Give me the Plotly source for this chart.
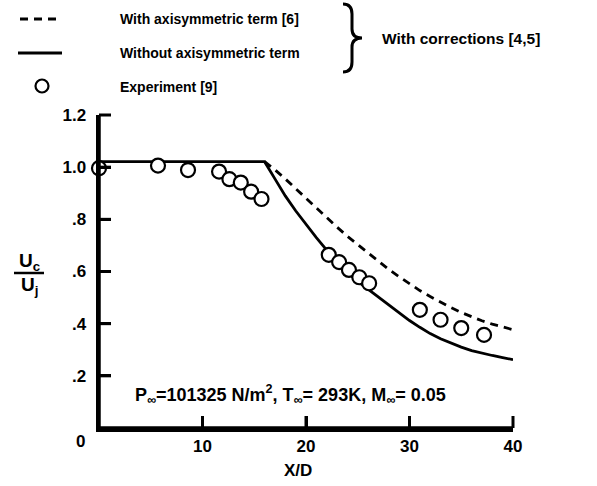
import plotly.graph_objects as go

# ---- data ----
exp_x = [0.0, 5.7, 8.6, 11.6, 12.6, 13.7, 14.7, 15.7, 22.2, 23.2, 24.15, 25.15, 26.1, 31.0, 33.0, 35.0, 37.2]
exp_y = [0.996, 1.006, 0.989, 0.983, 0.954, 0.941, 0.906, 0.878, 0.664, 0.636, 0.606, 0.578, 0.555, 0.453, 0.415, 0.383, 0.357]

sol_x = [0, 16, 17, 18, 19, 20, 21, 22, 23, 24, 25, 26, 27, 28, 29, 30, 31, 32, 33, 34, 35, 36, 37, 38, 39, 40]
sol_y = [1.021, 1.021, 0.955, 0.89, 0.833, 0.78, 0.73, 0.682, 0.638, 0.598, 0.562, 0.532, 0.503, 0.472, 0.442, 0.412,
         0.386, 0.362, 0.342, 0.325, 0.31, 0.297, 0.287, 0.278, 0.27, 0.262]

dash_x = [16, 17, 18, 19, 20, 21, 22, 23, 24, 25, 26, 27, 28, 29, 30, 31, 32, 33, 34, 35, 36, 37, 38, 39, 40]
dash_y = [1.021, 0.99, 0.955, 0.918, 0.88, 0.842, 0.805, 0.77, 0.735, 0.703, 0.670, 0.638, 0.608, 0.580, 0.553,
          0.527, 0.504, 0.482, 0.462, 0.443, 0.426, 0.411, 0.398, 0.387, 0.377]

x_ticks = [10, 20, 30, 40]
x_ticktext = ["10", "20", "30", "40"]
y_ticks = [0.2, 0.4, 0.6, 0.8, 1.0, 1.2]
y_ticktext = [".2", ".4", ".6", ".8", "1.0", "1.2"]
x_range = [0, 40]
y_range = [0, 1.2]

legend_labels = ["With axisymmetric term [6]", "Without axisymmetric term", "Experiment [9]"]
brace_label = "With corrections [4,5]"
cond_text = "P<sub>∞</sub>=101325 N/m<sup>2</sup>, T<sub>∞</sub>= 293K, M<sub>∞</sub>= 0.05"

# ---- layout geometry (pixels) ----
W, H = 597, 486
L, R, T, B = 99, 84, 115, 58
PW, PH = W - L - R, H - T - B
TICKLEN = 12

def px(xp):
    return (xp - L) / PW

def py(yp):
    return (H - B - yp) / PH

def xfrac(v):  # data -> paper fraction along the x axis range
    return (v - x_range[0]) / (x_range[1] - x_range[0])

def yfrac(v):
    return (v - y_range[0]) / (y_range[1] - y_range[0])

FONT = "Liberation Sans, Arial, Helvetica, sans-serif"

fig = go.Figure()
fig.add_trace(go.Scatter(x=dash_x, y=dash_y, mode="lines",
                         line=dict(color="black", width=2.8, dash="8px,6px"),
                         showlegend=False, cliponaxis=False))
fig.add_trace(go.Scatter(x=sol_x, y=sol_y, mode="lines",
                         line=dict(color="black", width=2.8),
                         showlegend=False, cliponaxis=False))
fig.add_trace(go.Scatter(x=exp_x, y=exp_y, mode="markers",
                         marker=dict(symbol="circle", size=14, color="white",
                                     line=dict(color="black", width=2.2)),
                         showlegend=False, cliponaxis=False))

shapes = []
ann = []

def text(x, y, s, size=14, xanchor="left"):
    ann.append(dict(x=px(x), y=py(y), xref="paper", yref="paper", text=s, showarrow=False,
                    xanchor=xanchor, yanchor="middle",
                    font=dict(family=FONT, size=size, color="black", weight="bold")))

# axis lines and inward ticks
shapes.append(dict(type="line", xref="paper", yref="paper", x0=-1.5 / PW, x1=1, y0=0, y1=0,
                   layer="above", line=dict(color="black", width=3.5)))
shapes.append(dict(type="line", xref="paper", yref="paper", x0=0, x1=0, y0=0, y1=1,
                   layer="above", line=dict(color="black", width=3.5)))
for xv in x_ticks:
    shapes.append(dict(type="line", xref="paper", yref="paper", x0=xfrac(xv), x1=xfrac(xv),
                       y0=0, y1=TICKLEN / PH, layer="above", line=dict(color="black", width=3)))
for yv in y_ticks:
    shapes.append(dict(type="line", xref="paper", yref="paper", x0=0, x1=TICKLEN / PW,
                       y0=yfrac(yv), y1=yfrac(yv), layer="above", line=dict(color="black", width=3)))

# legend samples
shapes.append(dict(type="line", xref="paper", yref="paper", x0=px(20), x1=px(62), y0=py(19), y1=py(19),
                   line=dict(color="black", width=2.8, dash="8px,6px")))
shapes.append(dict(type="line", xref="paper", yref="paper", x0=px(18), x1=px(62), y0=py(53), y1=py(53),
                   line=dict(color="black", width=2.8)))
shapes.append(dict(type="circle", xref="paper", yref="paper", x0=px(35.5), x1=px(48.5), y0=py(79.5), y1=py(92.5),
                   line=dict(color="black", width=2.2), fillcolor="white"))
text(118, 19, legend_labels[0], size=14)
text(118, 53, legend_labels[1], size=14)
text(118, 87, legend_labels[2], size=14)

# brace
path = (f"M {px(343)},{py(4)} Q {px(352)},{py(4)} {px(352)},{py(14)} L {px(352)},{py(29)} "
        f"Q {px(352)},{py(38)} {px(362)},{py(38)} Q {px(352)},{py(38)} {px(352)},{py(47)} "
        f"L {px(352)},{py(62)} Q {px(352)},{py(72)} {px(343)},{py(72)}")
shapes.append(dict(type="path", xref="paper", yref="paper", path=path, line=dict(color="black", width=3)))
text(380, 38, brace_label, size=15.5)

# condition text
text(133, 394, cond_text, size=18)

# axis labels
text(80, 441, "0", size=17, xanchor="center")
text(298, 470, "X/D", size=17, xanchor="center")
text(29, 262, "U<sub>c</sub>", size=19, xanchor="center")
shapes.append(dict(type="line", xref="paper", yref="paper", x0=px(14), x1=px(44), y0=py(273), y1=py(273),
                   line=dict(color="black", width=2.5)))
text(29, 286, "U<sub>j</sub>", size=19, xanchor="center")

tickfont = dict(family=FONT, size=17, color="black", weight="bold")
fig.update_layout(
    width=W, height=H, margin=dict(l=L, r=R, t=T, b=B),
    paper_bgcolor="white", plot_bgcolor="rgba(0,0,0,0)",
    shapes=shapes, annotations=ann,
    xaxis=dict(range=x_range, tickvals=x_ticks, ticktext=x_ticktext, ticks="inside", ticklen=TICKLEN,
               tickwidth=3, tickcolor="black", showline=True, linecolor="black", linewidth=3.5,
               showgrid=False, zeroline=False, tickfont=tickfont, fixedrange=True),
    yaxis=dict(range=y_range, tickvals=y_ticks, ticktext=y_ticktext, ticks="inside", ticklen=TICKLEN,
               tickwidth=3, tickcolor="black", showline=True, linecolor="black", linewidth=3.5,
               showgrid=False, zeroline=False, ticklabelstandoff=6, tickfont=tickfont, fixedrange=True),
)

fig.write_html("out.html", config={"staticPlot": True, "displayModeBar": False})
